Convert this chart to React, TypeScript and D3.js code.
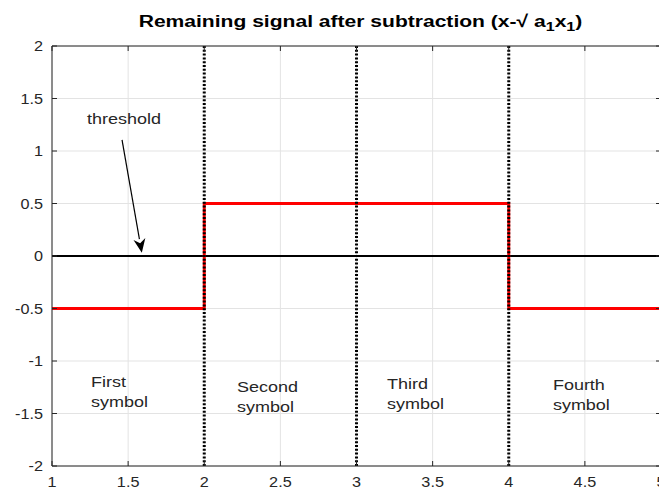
import React from "react";
import * as d3 from "d3";

// Step signal remaining after subtraction, and the zero threshold
const signalX = [1, 2, 2, 4, 4, 5];
const signalY = [-0.5, -0.5, 0.5, 0.5, -0.5, -0.5];
const thresholdX = [1, 5];
const thresholdY = [0, 0];
const symbolBounds = [2, 3, 4];
const xTicks = [1, 1.5, 2, 2.5, 3, 3.5, 4, 4.5, 5];
const yTicks = [-2, -1.5, -1, -0.5, 0, 0.5, 1, 1.5, 2];
const symbolLabels = [
  { lines: ["First", "symbol"], x: 1.256, y: -1.25 },
  { lines: ["Second", "symbol"], x: 2.215, y: -1.295 },
  { lines: ["Third", "symbol"], x: 3.2, y: -1.267 },
  { lines: ["Fourth", "symbol"], x: 4.29, y: -1.276 },
];
const thresholdNote = { text: "threshold", x: 1.23, y: 1.257, fromX: 1.46, fromY: 1.105, toX: 1.59, toY: 0.03 };

const W = 659;
const H = 491;
const M = { left: 52, right: -2, top: 46, bottom: 25 };
const FONT = "'Liberation Sans', Arial, Helvetica, sans-serif";
const TXT = "#262626";
const WIDE = 1.2; // horizontal stretch of the annotation lettering

export default function App() {
  const x = d3.scaleLinear().domain([1, 5]).range([M.left, W - M.right]);
  const y = d3.scaleLinear().domain([-2, 2]).range([H - M.bottom, M.top]);
  const line = d3
    .line<number>()
    .x((_, i) => x(signalX[i]))
    .y((d) => y(d));
  const thLine = d3
    .line<number>()
    .x((_, i) => x(thresholdX[i]))
    .y((d) => y(d));

  const x0 = x(1), x1 = x(5), y0 = y(-2), y1 = y(2);
  const tick = 5;

  // arrow geometry
  const ax0 = x(thresholdNote.fromX), ay0 = y(thresholdNote.fromY);
  const ax1 = x(thresholdNote.toX), ay1 = y(thresholdNote.toY);
  const ang = Math.atan2(ay1 - ay0, ax1 - ax0);
  const hl = 14, hw = 6;
  const bx = ax1 - hl * Math.cos(ang), by = ay1 - hl * Math.sin(ang);
  const head = [
    [ax1, ay1],
    [bx + hw * Math.sin(ang), by - hw * Math.cos(ang)],
    [ax1 - hl * 0.7 * Math.cos(ang), ay1 - hl * 0.7 * Math.sin(ang)],
    [bx - hw * Math.sin(ang), by + hw * Math.cos(ang)],
  ];

  const fmt = (t: number) => String(t);

  return (
    <div style={{ position: "absolute", left: 0, top: 0 }}>
      <svg width={W} height={H} style={{ display: "block", background: "#fff" }}>
        <defs>
          <clipPath id="plot">
            <rect x={x0} y={y1} width={x1 - x0} height={y0 - y1} />
          </clipPath>
        </defs>
        {/* grid */}
        <g stroke="#e3e3e3" strokeWidth={1}>
          {xTicks.map((t) => (
            <line key={"gx" + t} x1={x(t)} x2={x(t)} y1={y1} y2={y0} />
          ))}
          {yTicks.map((t) => (
            <line key={"gy" + t} x1={x0} x2={x1} y1={y(t)} y2={y(t)} />
          ))}
        </g>
        <g clipPath="url(#plot)">
          <path d={thLine(thresholdY) || ""} fill="none" stroke="#000" strokeWidth={2} />
          <path d={line(signalY) || ""} fill="none" stroke="#ff0000" strokeWidth={3} />
          {symbolBounds.map((b) => (
            <line
              key={"sb" + b}
              x1={x(b)}
              x2={x(b)}
              y1={y1}
              y2={y0}
              stroke="#000"
              strokeWidth={3}
              strokeDasharray="2,1.8"
            />
          ))}
        </g>
        {/* axes box */}
        <g stroke="#262626" strokeWidth={1} fill="none">
          <line x1={x0} x2={x1} y1={y0} y2={y0} />
          <line x1={x0} x2={x1} y1={y1} y2={y1} />
          <line x1={x0} x2={x0} y1={y1} y2={y0} />
          <line x1={x1} x2={x1} y1={y1} y2={y0} />
          {xTicks.map((t) => (
            <g key={"tx" + t}>
              <line x1={x(t)} x2={x(t)} y1={y0} y2={y0 - tick} />
              <line x1={x(t)} x2={x(t)} y1={y1} y2={y1 + tick} />
            </g>
          ))}
          {yTicks.map((t) => (
            <g key={"ty" + t}>
              <line x1={x0} x2={x0 + tick} y1={y(t)} y2={y(t)} />
              <line x1={x1} x2={x1 - tick} y1={y(t)} y2={y(t)} />
            </g>
          ))}
        </g>
        <g fontFamily={FONT} fontSize={15} fill={TXT}>
          {xTicks.map((t) => (
            <text
              key={"lx" + t}
              transform={`translate(${x(t)},${y0 + 21}) scale(1.08,1)`}
              textAnchor="middle"
            >
              {fmt(t)}
            </text>
          ))}
          {yTicks.map((t) => (
            <text
              key={"ly" + t}
              transform={`translate(${x0 - 9},${y(t)}) scale(1.08,1)`}
              textAnchor="end"
              dominantBaseline="central"
            >
              {fmt(t)}
            </text>
          ))}
        </g>
        {/* annotations */}
        <g fontFamily={FONT} fontSize={15} fill={TXT}>
          {symbolLabels.map((s) => (
            <text key={s.lines[0]} transform={`translate(${x(s.x)},${y(s.y)}) scale(${WIDE},1)`}>
              {s.lines.map((l, i) => (
                <tspan key={i} x={0} dy={i === 0 ? 0 : 20}>
                  {l}
                </tspan>
              ))}
            </text>
          ))}
          <text transform={`translate(${x(thresholdNote.x)},${y(thresholdNote.y)}) scale(${WIDE},1)`}>
            {thresholdNote.text}
          </text>
        </g>
        <line x1={ax0} y1={ay0} x2={bx} y2={by} stroke="#000" strokeWidth={1.2} />
        <polygon points={head.map((p) => p.join(",")).join(" ")} fill="#000" />
        <text
          transform={`translate(${(x0 + x1) / 2 + 4},27) scale(1.24,1)`}
          textAnchor="middle"
          fontFamily={FONT}
          fontSize={17}
          fontWeight="bold"
          fill="#000"
        >
          Remaining signal after subtraction (x-√ a
          <tspan dy={4} fontSize={13}>1</tspan>
          <tspan dy={-4}>x</tspan>
          <tspan dy={4} fontSize={13}>1</tspan>
          <tspan dy={-4}>)</tspan>
        </text>
      </svg>
    </div>
  );
}
